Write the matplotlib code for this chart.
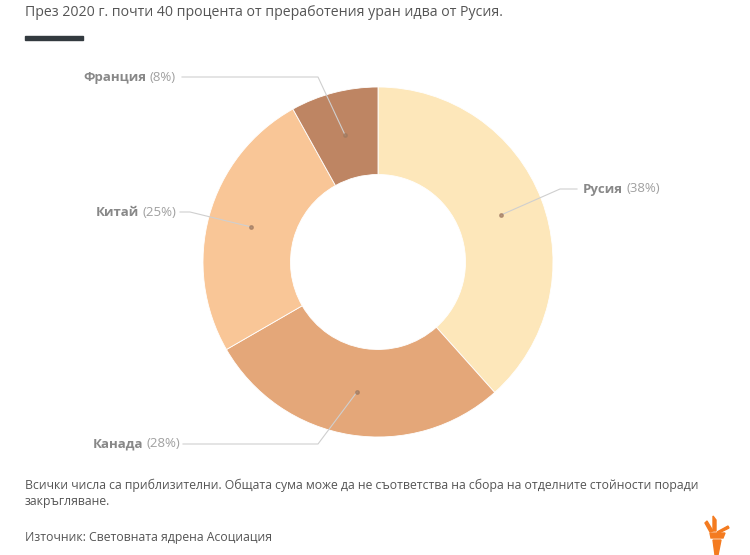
import matplotlib
matplotlib.use('Agg')
import matplotlib.pyplot as plt
from matplotlib.patches import Rectangle, Polygon
import numpy as np

plt.rcParams['font.family'] = ['Open Sans', 'DejaVu Sans']

# data
countries = ['Русия', 'Канада', 'Китай', 'Франция']
shares = [38, 28, 25, 8]
colors = ['#FDE7BA', '#E4A779', '#F9C697', '#BE8563']

title = 'През 2020 г. почти 40 процента от преработения уран идва от Русия.'
note1 = 'Всички числа са приблизителни. Общата сума може да не съответства на сбора на отделните стойности поради'
note2 = 'закръгляване.'
source = 'Източник: Световната ядрена Асоциация'

W, H = 750, 555
fig = plt.figure(figsize=(7.5, 5.55), dpi=100)
fig.patch.set_facecolor('white')

# pie centre (378, 262) px, radius 175 px -> 1 data unit
cx, cy, R = 378, 262, 175
half = 200
ax = fig.add_axes([(cx - half) / W, (H - cy - half) / H, 2 * half / W, 2 * half / H])

wedges, _ = ax.pie(shares, colors=colors, startangle=90, counterclock=False,
                   radius=1.0, wedgeprops=dict(width=0.5, edgecolor='white', linewidth=0.6))
ax.set_xlim(-half / R, half / R)
ax.set_ylim(-half / R, half / R)
ax.set_aspect('equal')
ax.axis('off')


def px(x, y):
    return (x - cx) / R, (cy - y) / R


# label layout: (elbow px, end px, text x px, ha)
layout = {
    'Русия': ((560, 189), (577, 189), 583, 'left'),
    'Канада': ((318, 444), (183, 444), 180, 'right'),
    'Китай': ((190, 212), (180, 212), 176, 'right'),
    'Франция': ((318, 77), (182, 77), 176, 'right'),
}

for w, name, val in zip(wedges, countries, shares):
    mid = np.radians((w.theta1 + w.theta2) / 2)
    r = 0.75
    dx, dy = r * np.cos(mid), r * np.sin(mid)
    (ex, ey), (lx, ly), tx, ha = layout[name]
    e = px(ex, ey)
    l = px(lx, ly)
    ax.plot([dx, e[0], l[0]], [dy, e[1], l[1]], color='#cfcfcf', lw=0.8, clip_on=False, zorder=3)
    ax.plot([dx], [dy], 'o', ms=2.5, color='#a07a60', alpha=0.7, clip_on=False, zorder=4)
    t = px(tx, ly)
    if ha == 'left':
        txt = ax.text(t[0], t[1], name, ha='left', va='center', fontsize=9.5,
                      fontweight='bold', color='#888888', clip_on=False)
        ax.annotate(f'({val}%)', xycoords=txt, xy=(1, 0.5), xytext=(2.5, 0),
                    textcoords='offset points', va='center', ha='left',
                    fontsize=9.5, color='#a0a0a0', annotation_clip=False)
    else:
        txt = ax.text(t[0], t[1], f'({val}%)', ha='right', va='center', fontsize=9.5,
                      color='#a0a0a0', clip_on=False)
        ax.annotate(name, xycoords=txt, xy=(0, 0.5), xytext=(-2.5, 0),
                    textcoords='offset points', va='center', ha='right',
                    fontsize=9.5, fontweight='bold', color='#888888', annotation_clip=False)

# title and bar
fig.text(25 / W, 1 - 12 / H, title, ha='left', va='center', fontsize=10.2, color='#555555')
fig.patches.append(Rectangle((25 / W, 1 - 40 / H), 58 / W, 3.5 / H,
                             transform=fig.transFigure, color='#333a3f'))

# notes
fig.text(25 / W, 1 - 485 / H, note1, ha='left', va='center', fontsize=8.8, color='#555555')
fig.text(25 / W, 1 - 502 / H, note2, ha='left', va='center', fontsize=8.8, color='#555555')
fig.text(25 / W, 1 - 538 / H, source, ha='left', va='center', fontsize=8.8, color='#555555')

# logo (simple torch)
orange = '#F47B20'
def fpoly(pts):
    fig.patches.append(Polygon([(x / W, 1 - y / H) for x, y in pts], closed=True,
                               transform=fig.transFigure, color=orange))

fpoly([(705, 523), (707, 521), (713, 531), (710, 532)])
fpoly([(713, 516), (716, 520), (716, 531), (713, 531)])
fpoly([(728, 526), (729, 528), (719, 533), (717, 532)])
fpoly([(710, 533), (725, 533), (723, 538), (711, 538)])
fpoly([(713, 540), (721, 540), (718, 555), (715, 555)])

fig.savefig('out.png', dpi=100, facecolor='white')
